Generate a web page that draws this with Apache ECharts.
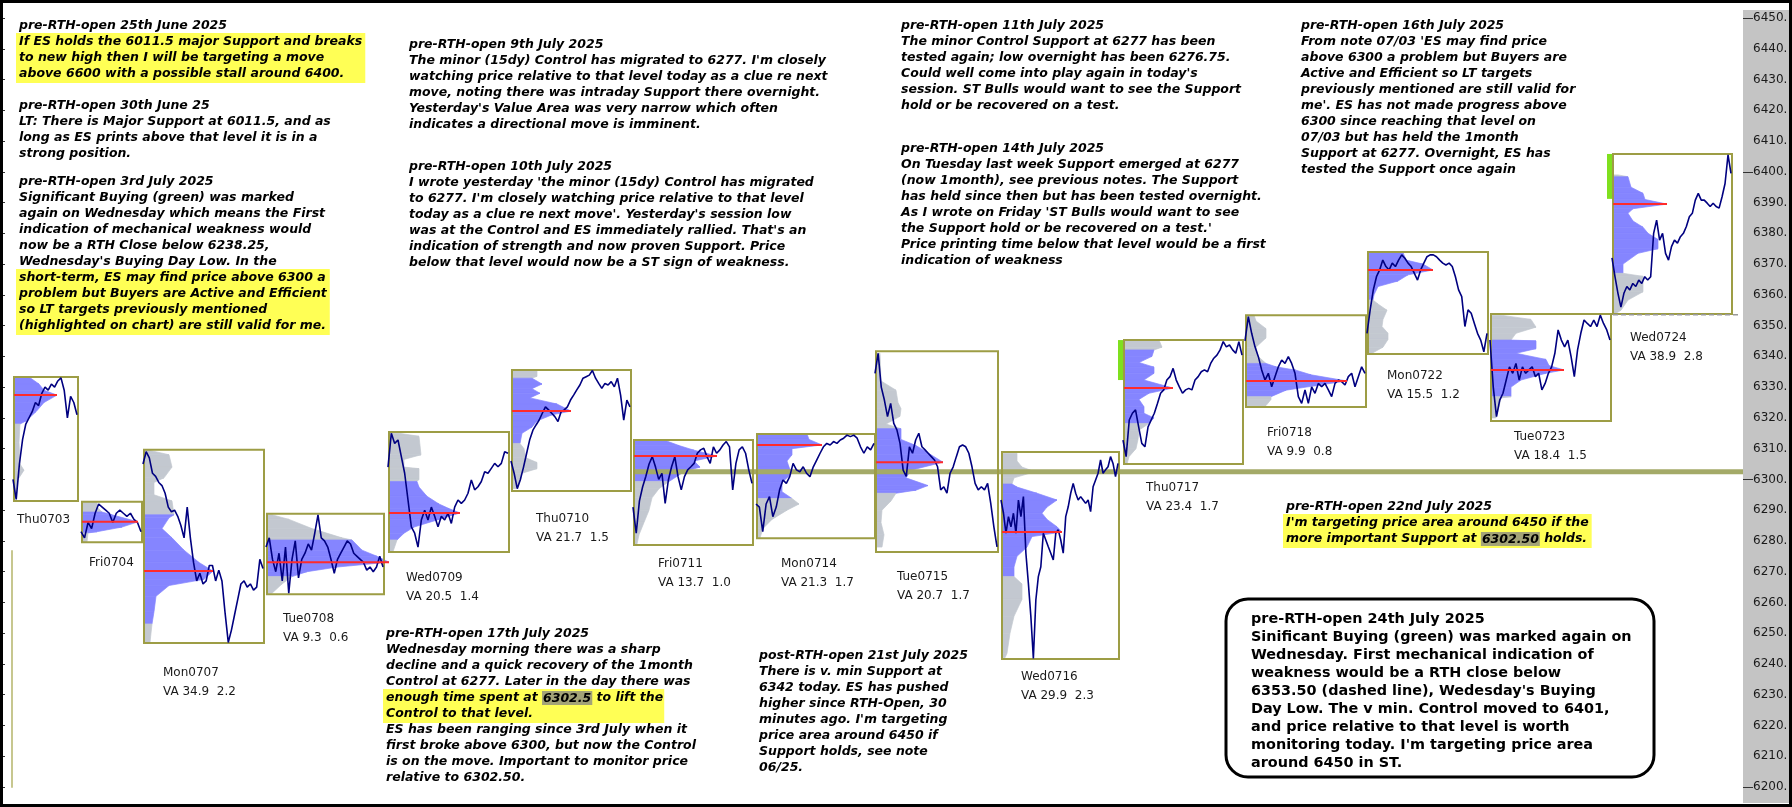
<!DOCTYPE html>
<html><head><meta charset="utf-8">
<script src="https://cdn.jsdelivr.net/npm/echarts@6.0.0/dist/echarts.min.js"></script>
<style>html,body{margin:0;padding:0;background:#fff;overflow:hidden}#c{width:1792px;height:807px}</style>
</head><body><div id="c"></div><script>
// ---------- DATA ----------
const days = ['Thu0703','Fri0704','Mon0707','Tue0708','Wed0709','Thu0710','Fri0711','Mon0714','Tue0715','Wed0716','Thu0717','Fri0718','Mon0722','Tue0723','Wed0724'];
const vaText = ['','','VA 34.9  2.2','VA 9.3  0.6','VA 20.5  1.4','VA 21.7  1.5','VA 13.7  1.0','VA 21.3  1.7','VA 20.7  1.7','VA 29.9  2.3','VA 23.4  1.7','VA 9.9  0.8','VA 15.5  1.2','VA 18.4  1.5','VA 38.9  2.8'];
// session start / end on the time axis
const dayStart = [14,82,144,267,389,512,634,757,876,1002,1124,1246,1368,1491,1613];
const dayEnd   = [78,142,264,384,509,631,753,875,998,1119,1243,1366,1488,1611,1732];
const dayHigh = [6333.3,6292.7,6309.6,6288.8,6315.4,6335.6,6312.8,6314.8,6341.7,6308.9,6345.3,6353.4,6373.9,6353.8,6405.8];
const dayLow  = [6293.0,6279.6,6246.8,6262.7,6276.4,6296.2,6278.7,6280.9,6276.4,6241.6,6305.0,6323.5,6340.8,6319.0,6353.8];
const dayPOC  = [6327.4,6286.2,6270.2,6273.1,6289.1,6322.2,6307.6,6311.2,6305.6,6282.9,6329.7,6332.0,6368.1,6335.6,6389.5];
const vaLow   = [6318,6282.6,6253,6268.4,6280.3,6311.7,6299.3,6293.8,6295.5,6268.4,6318.2,6326.9,6358.3,6326.9,6367];
const vaHigh  = [6333.3,6289.4,6288,6280.3,6299.3,6332.9,6312.8,6314.8,6316.5,6298.5,6342.1,6337.7,6373.8,6345.3,6398.4];
const controlLevel = 6302.5;      // 1month Control
const buyingDayLow = 6353.5;      // Wed 07/24 buying day low (dashed)
const greenBuy = [[10,6332.3,6345.3],[14,6391.2,6405.8]]; // [day index, low, high]
const prevEdge = [12, 6195, 6277];

// price paths (evenly spaced through each session)
const p0703 = [6300,6293.5,6305,6313,6318,6320,6322,6325,6324,6328,6330,6329,6331,6330,6332,6333,6329,6320,6327,6325,6321];
const p0704 = [6283,6281,6286,6284,6289,6292,6291,6290,6289,6286,6289,6290,6289,6288,6289,6287,6286,6283];
const p0707 = [6305,6309,6307,6302,6301,6299,6298,6295.5,6291,6289.5,6290,6288,6285,6281,6291,6281,6273,6267,6269.5,6266,6267,6272,6272,6267,6270.5,6267,6256.5,6247,6251,6256,6261,6266,6267,6265,6266,6264,6265,6274,6271];
const p0708 = [6278,6281,6274,6270,6276,6267,6278,6263,6274,6280,6268,6274,6276,6279,6277,6282.5,6288.5,6281,6280,6278,6274,6269.5,6274,6276,6278,6280,6279,6276,6275,6274,6273,6270.5,6271.5,6270,6271.5,6275,6271.5];
const p0709 = [6304,6315,6311.7,6312.8,6307.4,6302,6293.3,6284.6,6282.5,6278,6286.8,6290,6286.8,6291,6288,6284.6,6288,6286.8,6289,6285.7,6291,6293.3,6292.2,6293.3,6295.5,6299.8,6296.6,6297.6,6299.3,6302.5,6302,6303.6,6305.2,6304.1,6305.2,6309,6308.5];
const p0710 = [6306,6302,6297,6300,6304,6308.5,6313,6316,6317.7,6319.3,6321.5,6323.6,6322.6,6321.5,6320.4,6318.8,6322,6322.6,6323.6,6325.8,6327.4,6329.1,6330.7,6332.9,6333.4,6333.9,6335.4,6332.9,6331.2,6329.6,6331.2,6330.7,6331.8,6330.1,6332.9,6327.4,6319.3,6325.8,6323.6];
const p0711 = [6291,6282.5,6293,6297.6,6301,6305,6307.4,6304,6300,6302,6292.2,6299.8,6304.1,6307.4,6300.9,6296.6,6300.9,6303.1,6304.1,6305.2,6308.5,6309.6,6310.1,6307.4,6305.2,6310.6,6308.5,6309.6,6311.2,6312.3,6310.6,6296.6,6305.2,6309.6,6310.6,6308.5,6303.1,6298.7];
const p0714 = [6292,6291,6283,6292,6294.4,6287.9,6291,6296.6,6299.8,6298.7,6300.9,6305.2,6303.1,6302.5,6304.1,6302,6300.9,6304.1,6306.3,6308.5,6310.6,6311.7,6311.2,6312.3,6311.7,6312.8,6313.4,6314.4,6313.9,6314.4,6313.4,6310.6,6308.5,6310.6,6309.6,6311.7];
const p0715 = [6334.5,6341,6330,6325.8,6320.4,6324.7,6318.2,6316.1,6311.7,6303,6301,6310.6,6308.5,6312.8,6315,6310.6,6309.6,6308.5,6307.4,6306.3,6304.1,6296.6,6297.6,6295.5,6302,6304.1,6307.4,6310.6,6311.2,6310.6,6308.5,6304.1,6298.7,6296.6,6297.6,6296.6,6298.7,6292.2,6284.6,6278.1];
const p0716 = [6293.3,6289,6282.5,6287.9,6284.6,6289,6282.5,6293.3,6287.9,6294.4,6276,6266.2,6255.4,6241.8,6260.8,6268.4,6271.6,6282.5,6280.3,6278.1,6276,6273.8,6282.5,6283.6,6280.3,6276,6287.9,6291.1,6295.5,6298.7,6295.5,6293.3,6294.4,6293.3,6292.2,6293.3,6289.5,6297.6,6299.8,6302,6306.3,6302,6303.1,6304.1,6307.4,6305.2,6300.9,6305.2];
const p0717 = [6312.8,6307.4,6319.3,6321.5,6322.6,6317.1,6311.7,6310.6,6317.1,6319.3,6321.5,6324.7,6328,6329.1,6332.3,6333.4,6336.1,6332.3,6330.1,6328,6329.1,6329.6,6329.1,6332.3,6333.4,6335,6335.6,6335,6337.7,6339.4,6340.4,6342.1,6344.8,6343.1,6343.7,6342.1,6341,6344.8,6340.4];
const p0718 = [6345,6352.9,6347.5,6343.1,6339.9,6335.6,6332.3,6334.5,6330.1,6333.4,6336.6,6338.8,6337.7,6339.9,6337.7,6334.5,6326.9,6324.7,6329.1,6324.7,6330.1,6328,6331.2,6330.1,6331.2,6329.1,6326.9,6331.2,6332.3,6331.8,6330.7,6333.4,6334.5,6330.1,6333.4,6336.6,6334.5];
const p0722 = [6347.5,6355.1,6361.6,6365.9,6368.1,6371.3,6369.2,6368.1,6370.3,6369.2,6371.3,6373,6371.9,6370.3,6369.2,6367,6364.8,6368.1,6370.3,6372.4,6373,6373,6372.4,6371.3,6370.3,6369.7,6370.3,6369.2,6365.9,6361.6,6359.4,6349.7,6355.1,6354,6350.7,6347.5,6345.3,6341.5,6347.5];
const p0723 = [6345.3,6330.1,6320.4,6325.8,6328,6332.3,6336.6,6334.5,6337.7,6332.3,6336.6,6334.5,6335.6,6336.6,6333.4,6334.5,6329.1,6331.2,6334.5,6336.6,6341,6348.6,6345.3,6343.1,6345.3,6339.9,6333.4,6342.1,6347.5,6351.8,6350.7,6349.7,6351.8,6349.7,6353.4,6350.7,6348.6,6345.3];
const p0724 = [6372,6365.9,6360.5,6356,6360.5,6362.7,6361.6,6363.7,6362.7,6364.8,6363.7,6365.9,6364.8,6365.9,6380,6384.3,6377.8,6380,6373.5,6371.3,6375.7,6377.8,6376.8,6378.9,6380,6382.2,6385.4,6386.5,6390.8,6393,6390.8,6390.8,6389.8,6388.7,6389.8,6388.7,6388.2,6391.9,6396.2,6405.5,6399.5];
const paths = [p0703,p0704,p0707,p0708,p0709,p0710,p0711,p0714,p0715,p0716,p0717,p0718,p0722,p0723,p0724];

// volume profiles: [price, relative volume width]
const prof0703 = [[6333.3,15],[6331,25],[6329,30],[6327.4,43],[6325,30],[6322,22],[6319,12],[6318,6],[6312,5],[6305,6],[6303,10],[6300,4],[6296,2]];
const prof0704 = [[6292.7,15],[6291,15],[6289.4,20],[6288.5,30],[6286.2,56],[6284.5,40],[6283,15],[6282.6,6],[6279.6,5]];
const prof0707 = [[6309.5,5],[6308,25],[6304,28],[6300.5,20],[6299,10],[6295,10],[6293,28],[6288.5,30],[6287.5,25],[6284,18],[6281,28],[6277,40],[6273,55],[6270.2,69],[6267.5,60],[6265.5,25],[6262,12],[6257,10],[6253,8],[6247,6]];
const prof0708 = [[6288.5,5],[6287,22],[6284,45],[6281,75],[6280.3,85],[6277,95],[6275,110],[6273.1,122],[6271.5,70],[6270,40],[6268.4,25],[6266,15],[6263,5]];
const prof0709 = [[6315,10],[6314,30],[6308,32],[6306.5,15],[6304,15],[6303.5,30],[6300,30],[6299.3,28],[6297.5,30],[6294.5,38],[6292,50],[6290.5,60],[6289.1,71],[6287,50],[6284.5,25],[6282.5,15],[6280.3,8],[6276.5,4]];
const prof0710 = [[6335.5,25],[6333.5,25],[6332.9,20],[6331,30],[6329.5,20],[6328,28],[6326.5,18],[6324.5,45],[6322.2,59],[6321,40],[6319,25],[6317,20],[6315,10],[6311.7,8],[6310,12],[6307,14],[6305.5,25],[6303.5,25],[6302,10],[6300,9],[6297,4]];
const prof0711 = [[6312.8,30],[6311,45],[6309.5,60],[6307.6,83],[6306,60],[6304,66],[6302.5,50],[6299.3,35],[6297,25],[6294,18],[6290,15],[6286,10],[6282,5],[6279,3]];
const prof0714 = [[6314.8,50],[6313,52],[6311.2,65],[6310,35],[6308,35],[6306,30],[6304,32],[6302,35],[6299,25],[6296,25],[6293.8,35],[6292,42],[6290,30],[6287,15],[6284,6],[6281,3]];
const prof0715 = [[6341,4],[6332,5],[6329,20],[6325,22],[6323,25],[6320.5,24],[6318,10],[6316.5,25],[6313,25],[6311,40],[6308,55],[6305.6,67],[6303,35],[6300.5,30],[6298,52],[6296.5,40],[6295.5,20],[6293,15],[6290,6],[6286,5],[6282,8],[6278,6]];
const prof0716 = [[6308.5,15],[6306,15],[6304,20],[6302.5,33],[6300.5,12],[6298.5,10],[6297.5,15],[6295.5,35],[6293.3,55],[6291,45],[6289,40],[6287,45],[6284.6,55],[6282.9,60],[6281.4,30],[6278,25],[6275,15],[6271.5,12],[6268.4,12],[6266,20],[6261,20],[6255.5,12],[6250,8],[6243.5,5],[6242,3]];
const prof0717 = [[6345.3,35],[6343,38],[6342.1,30],[6340,28],[6338,15],[6336.5,30],[6334.5,30],[6332.3,20],[6329.7,49],[6328,25],[6326,15],[6323.6,20],[6321.5,20],[6320,30],[6318.2,25],[6316,15],[6313,14],[6310,12],[6307.4,5],[6305,3]];
const prof0718 = [[6353.4,8],[6351.5,10],[6349,20],[6346,20],[6343,10],[6340,12],[6337.7,20],[6336.6,30],[6335.5,50],[6334,65],[6332,101],[6330.5,70],[6329,40],[6326.9,25],[6326,25],[6324,20],[6323.5,5]];
const prof0722 = [[6373.8,35],[6371.3,38],[6370,55],[6368.1,65],[6366.5,40],[6364.5,30],[6362.7,10],[6360,6],[6358.3,5],[6357,10],[6355,19],[6352,15],[6349.7,14],[6347.5,20],[6345.5,20],[6343,15],[6341,4]];
const prof0723 = [[6353.4,10],[6352,40],[6349.5,45],[6347.5,25],[6345.3,20],[6345,45],[6342.5,45],[6341,25],[6339,55],[6337,58],[6335.6,73],[6334.5,55],[6332.3,30],[6330,20],[6326.9,20],[6326.5,10],[6323.5,8],[6320,5]];
const prof0724 = [[6399,5],[6398.4,15],[6395,18],[6393,30],[6391,32],[6389.5,54],[6388,20],[6386.5,15],[6384,20],[6382,30],[6380,35],[6378,45],[6375,45],[6373.5,25],[6370,10],[6367,10],[6366,30],[6361,30],[6358.3,15],[6355,8],[6354,3]];
const profiles = [prof0703,prof0704,prof0707,prof0708,prof0709,prof0710,prof0711,prof0714,prof0715,prof0716,prof0717,prof0718,prof0722,prof0723,prof0724];

// notes
const note0625 = ['pre-RTH-open 25th June 2025','If ES holds the 6011.5 major Support and breaks','to new high then I will be targeting a move','above 6600 with a possible stall around 6400.'];
const note0630 = ['pre-RTH-open 30th June 25','LT: There is Major Support at 6011.5, and as','long as ES prints above that level it is in a','strong position.'];
const note0703 = ['pre-RTH-open 3rd July 2025','Significant Buying (green) was marked','again on Wednesday which means the First','indication of mechanical weakness would','now be a RTH Close below 6238.25,',"Wednesday's Buying Day Low. In the",'short-term, ES may find price above 6300 a','problem but Buyers are Active and Efficient','so LT targets previously mentioned','(highlighted on chart) are still valid for me.'];
const note0709 = ['pre-RTH-open 9th July 2025',"The minor (15dy) Control has migrated to 6277. I'm closely",'watching price relative to that level today as a clue re next','move, noting there was intraday Support there overnight.',"Yesterday's Value Area was very narrow which often",'indicates a directional move is imminent.'];
const note0710 = ['pre-RTH-open 10th July 2025',"I wrote yesterday 'the minor (15dy) Control has migrated","to 6277. I'm closely watching price relative to that level","today as a clue re next move'. Yesterday's session low","was at the Control and ES immediately rallied. That's an",'indication of strength and now proven Support. Price','below that level would now be a ST sign of weakness.'];
const note0711 = ['pre-RTH-open 11th July 2025','The minor Control Support at 6277 has been','tested again; low overnight has been 6276.75.',"Could well come into play again in today's",'session. ST Bulls would want to see the Support','hold or be recovered on a test.'];
const note0714 = ['pre-RTH-open 14th July 2025','On Tuesday last week Support emerged at 6277','(now 1month), see previous notes. The Support','has held since then but has been tested overnight.',"As I wrote on Friday 'ST Bulls would want to see","the Support hold or be recovered on a test.'",'Price printing time below that level would be a first','indication of weakness'];
const note0716 = ['pre-RTH-open 16th July 2025',"From note 07/03 'ES may find price",'above 6300 a problem but Buyers are','Active and Efficient so LT targets','previously mentioned are still valid for',"me'. ES has not made progress above",'6300 since reaching that level on','07/03 but has held the 1month','Support at 6277. Overnight, ES has','tested the Support once again'];
const note0717 = ['pre-RTH-open 17th July 2025','Wednesday morning there was a sharp','decline and a quick recovery of the 1month','Control at 6277. Later in the day there was','enough time spent at {g|6302.5} to lift the','Control to that level.','ES has been ranging since 3rd July when it','first broke above 6300, but now the Control','is on the move. Important to monitor price','relative to 6302.50.'];
const note0721 = ['post-RTH-open 21st July 2025','There is v. min Support at','6342 today. ES has pushed','higher since RTH-Open, 30',"minutes ago. I'm targeting",'price area around 6450 if','Support holds, see note','06/25.'];
const note0722 = ['pre-RTH-open 22nd July 2025',"I'm targeting price area around 6450 if the",'more important Support at {g|6302.50} holds.'];
const note0724 = ['pre-RTH-open 24th July 2025','Sinificant Buying (green) was marked again on','Wednesday. First mechanical indication of','weakness would be a RTH close below',"6353.50 (dashed line), Wedesday's Buying",'Day Low. The v min. Control moved to 6401,','and price relative to that level is worth',"monitoring today. I'm targeting price area",'around 6450 in ST.'];

// ---------- LAYOUT / STYLE ----------
const W = 1792, H = 807, PLOT_R = 1743;
const BLUE = '#8585ff', GRAY = '#c3c8d0', OLIVE = '#9d9d45', NAVY = '#000080', RED = '#ff2b2b';
const NOTE_FONT = {fontFamily:'DejaVu Sans', fontSize:12.5, fontWeight:'bold', fontStyle:'italic'};
const labelDx = [3,7,19,16,17,24,24,24,21,19,22,21,19,23,17];
const labelDy = [19,21,30,25,26,28,19,26,25,18,24,26,22,16,24];
const noteLayout = [
  {lines:note0625, x:19, y:26, hl:[1,3]},
  {lines:note0630, x:19, y:106},
  {lines:note0703, x:19, y:182, hl:[6,9]},
  {lines:note0709, x:409, y:45},
  {lines:note0710, x:409, y:167},
  {lines:note0711, x:901, y:26},
  {lines:note0714, x:901, y:149},
  {lines:note0716, x:1301, y:26},
  {lines:note0717, x:386, y:634, hl:[4,5]},
  {lines:note0721, x:759, y:656},
  {lines:note0722, x:1286, y:507, hl:[1,2]}
];

const mctx = document.createElement('canvas').getContext('2d');
function measure(f, s) {
  mctx.font = `${f.fontStyle||'normal'} ${f.fontWeight||'normal'} ${f.fontSize}px "${f.fontFamily}"`;
  return mctx.measureText(s.replace(/\{g\|([^}]*)\}/g,'$1')).width;
}

const graphics = [];
graphics.push({type:'rect', z:-10, shape:{x:PLOT_R, y:10, width:W-PLOT_R-2, height:H-14}, style:{fill:'#c4c4c4'}});
noteLayout.forEach(n => {
  const lh = 16;
  if (n.hl) {
    let mw = 0;
    for (let i = n.hl[0]; i <= n.hl[1]; i++) mw = Math.max(mw, measure(NOTE_FONT, n.lines[i]));
    graphics.push({type:'rect', z:5, shape:{x:n.x-3, y:n.y + n.hl[0]*lh - lh/2 - 1, width:mw+6, height:(n.hl[1]-n.hl[0]+1)*lh+2}, style:{fill:'#ffff55'}});
  }
  n.lines.forEach((t, i) => {
    graphics.push({type:'text', z:6, x:n.x, y:n.y + i*lh, style:Object.assign({text:t, fill:'#000', verticalAlign:'middle', align:'left',
      rich:{g:Object.assign({backgroundColor:'#a3a378', padding:[1,1,0,1]}, NOTE_FONT)}}, NOTE_FONT)});
  });
});
// rounded box note
graphics.push({type:'rect', z:5, shape:{x:1226, y:599, width:428, height:178, r:22}, style:{fill:'#fff', stroke:'#000', lineWidth:3}});
note0724.forEach((t, i) => {
  graphics.push({type:'text', z:6, x:1251, y:619 + i*18, style:{text:t, fill:'#000', verticalAlign:'middle', fontFamily:'DejaVu Sans', fontSize:14.4, fontWeight:'bold'}});
});
// frame
graphics.push({type:'rect', z:100, shape:{x:1.5, y:1.5, width:W-3, height:H-3}, style:{fill:'none', stroke:'#000', lineWidth:3}});

// ---------- SERIES ----------
const profileSegs = [];
profiles.forEach((pr, i) => {
  for (let k = 0; k < pr.length - 1; k++) {
    const mid = (pr[k][0] + pr[k+1][0]) / 2;
    profileSegs.push([dayStart[i], pr[k][0], pr[k][1], pr[k+1][0], pr[k+1][1], (mid >= vaLow[i] && mid <= vaHigh[i]) ? 1 : 0]);
  }
});
const series = [];
series.push({type:'custom', z:2, silent:true, encode:{x:0, y:1}, data:profileSegs,
  renderItem:(p, api) => {
    const x0 = api.value(0), pa = api.value(1), wa = api.value(2), pb = api.value(3), wb = api.value(4), va = api.value(5);
    const pts = [api.coord([x0,pa]), api.coord([x0+wa,pa]), api.coord([x0+wb,pb]), api.coord([x0,pb])];
    const c = va ? BLUE : GRAY;
    return {type:'polygon', shape:{points:pts}, style:{fill:c, stroke:c, lineWidth:0.7}};
  }});
series.push({type:'line', z:3, silent:true, symbol:'none', data:[[dayStart[6], controlLevel],[PLOT_R, controlLevel]], lineStyle:{color:'#a4aa68', width:5}});
series.push({type:'custom', z:4, silent:true, encode:{x:[0,1], y:[2,3]}, data:days.map((d,i)=>[dayStart[i], dayEnd[i], dayHigh[i], dayLow[i]]),
  renderItem:(p, api) => {
    const a = api.coord([api.value(0), api.value(2)]), b = api.coord([api.value(1), api.value(3)]);
    return {type:'rect', shape:{x:a[0], y:a[1], width:b[0]-a[0], height:b[1]-a[1]}, style:{fill:'none', stroke:OLIVE, lineWidth:2}};
  }});
series.push({type:'line', z:4, silent:true, symbol:'none', data:[[prevEdge[0], prevEdge[1]],[prevEdge[0], prevEdge[2]]], lineStyle:{color:'#b5b56a', width:1.5}});
series.push({type:'custom', z:4, silent:true, encode:{x:0, y:[1,2]}, data:greenBuy.map(g=>[dayStart[g[0]], g[1], g[2]]),
  renderItem:(p, api) => {
    const a = api.coord([api.value(0), api.value(2)]), b = api.coord([api.value(0), api.value(1)]);
    return {type:'rect', shape:{x:a[0]-6, y:a[1], width:5, height:b[1]-a[1]}, style:{fill:'#7fe01e'}};
  }});
series.push({type:'line', z:4, silent:true, symbol:'none', data:[[dayStart[14], buyingDayLow],[dayEnd[14]+6, buyingDayLow]], lineStyle:{color:'#999', width:1.5, type:[5,3]}});
paths.forEach((ps, i) => {
  const n = ps.length, x0 = dayStart[i] - 1, x1 = dayEnd[i] - 1;
  series.push({type:'line', z:5, silent:true, symbol:'none', data:ps.map((v,j)=>[x0 + j*(x1-x0)/(n-1), v]), lineStyle:{color:NAVY, width:1.6}});
});
series.push({type:'custom', z:6, silent:true, encode:{x:0, y:1}, data:days.map((d,i)=>[dayStart[i], dayPOC[i], Math.max(...profiles[i].map(q=>q[1]))]),
  renderItem:(p, api) => {
    const a = api.coord([api.value(0), api.value(1)]), b = api.coord([api.value(0)+api.value(2), api.value(1)]);
    return {type:'line', shape:{x1:a[0], y1:a[1], x2:b[0], y2:b[1]}, style:{stroke:RED, lineWidth:2}};
  }});
series.push({type:'custom', z:6, silent:true, encode:{x:0, y:1}, data:days.map((d,i)=>[dayStart[i], dayLow[i], i]),
  renderItem:(p, api) => {
    const i = api.value(2), a = api.coord([api.value(0), api.value(1)]);
    const ch = [{type:'text', x:a[0]+labelDx[i], y:a[1]+labelDy[i], style:{text:days[i], fill:'#1a1a1a', fontFamily:'DejaVu Sans', fontSize:12, verticalAlign:'middle'}}];
    if (vaText[i]) ch.push({type:'text', x:a[0]+labelDx[i], y:a[1]+labelDy[i]+19, style:{text:vaText[i], fill:'#1a1a1a', fontFamily:'DejaVu Sans', fontSize:12, verticalAlign:'middle'}});
    return {type:'group', children:ch};
  }});

const chart = echarts.init(document.getElementById('c'), null, {renderer:'canvas'});
chart.setOption({
  animation:false, backgroundColor:'#fff',
  grid:{left:0, right:W-PLOT_R, top:18, bottom:20, containLabel:false},
  xAxis:{type:'value', min:0, max:PLOT_R, show:false},
  yAxis:[
    {type:'value', position:'right', min:6200, max:6450, interval:10, offset:0,
     axisLine:{show:false}, splitLine:{show:false},
     axisTick:{show:true, length:5, lineStyle:{color:'#333'}},
     axisLabel:{formatter:v=>v.toFixed(0)+'.', color:'#1a1a1a', fontFamily:'DejaVu Sans', fontSize:12, margin:10}},
    {type:'value', position:'right', min:6200, max:6450, interval:100, offset:0,
     axisLine:{show:false}, splitLine:{show:false}, axisLabel:{show:false},
     axisTick:{show:true, length:10, lineStyle:{color:'#333'}}}
  ],
  graphic:{elements:graphics},
  series:series
});
</script></body></html>
